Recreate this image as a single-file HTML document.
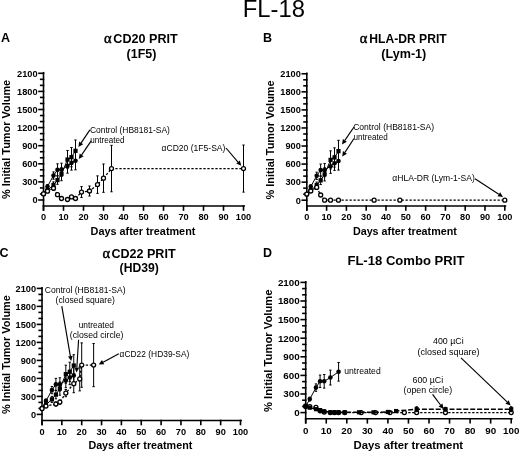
<!DOCTYPE html>
<html><head><meta charset="utf-8"><title>FL-18</title>
<style>
html,body{margin:0;padding:0;background:#fff;}
body{width:520px;height:452px;overflow:hidden;}
svg{display:block;filter:grayscale(1);}
text{font-family:"Liberation Sans", sans-serif;fill:#000;}
.ax{stroke:#000;stroke-width:1.6;stroke-linecap:square;}
.eb{stroke:#000;stroke-width:1.0;}
.tl{font-size:9.2px;font-weight:bold;}
.ti{font-size:12px;font-weight:bold;}
.ti2{font-size:12.5px;font-weight:bold;}
.al{font-size:14.5px;font-family:"Liberation Serif", serif;stroke:#000;stroke-width:0.45px;}
.pl{font-size:12.5px;font-weight:bold;}
.an{font-size:8.2px;}
.xl{font-size:10px;font-weight:bold;}
.yl{font-size:11px;font-weight:bold;}
.mt{font-size:24px;}
</style></head>
<body>
<svg width="520" height="452" viewBox="0 0 520 452">
<rect width="520" height="452" fill="#fff"/>
<line x1="43.5" y1="72.7" x2="43.5" y2="210" class="ax"/>
<line x1="39" y1="200" x2="43.5" y2="200" class="ax"/>
<text x="37.5" y="203.3" class="tl" style="font-size:9.2px" text-anchor="end">0</text>
<line x1="40.7" y1="193.97" x2="43.5" y2="193.97" class="ax"/>
<line x1="40.7" y1="187.93" x2="43.5" y2="187.93" class="ax"/>
<line x1="39" y1="181.9" x2="43.5" y2="181.9" class="ax"/>
<text x="37.5" y="185.2" class="tl" style="font-size:9.2px" text-anchor="end">300</text>
<line x1="40.7" y1="175.87" x2="43.5" y2="175.87" class="ax"/>
<line x1="40.7" y1="169.83" x2="43.5" y2="169.83" class="ax"/>
<line x1="39" y1="163.8" x2="43.5" y2="163.8" class="ax"/>
<text x="37.5" y="167.1" class="tl" style="font-size:9.2px" text-anchor="end">600</text>
<line x1="40.7" y1="157.77" x2="43.5" y2="157.77" class="ax"/>
<line x1="40.7" y1="151.73" x2="43.5" y2="151.73" class="ax"/>
<line x1="39" y1="145.7" x2="43.5" y2="145.7" class="ax"/>
<text x="37.5" y="149" class="tl" style="font-size:9.2px" text-anchor="end">900</text>
<line x1="40.7" y1="139.67" x2="43.5" y2="139.67" class="ax"/>
<line x1="40.7" y1="133.63" x2="43.5" y2="133.63" class="ax"/>
<line x1="39" y1="127.6" x2="43.5" y2="127.6" class="ax"/>
<text x="37.5" y="130.9" class="tl" style="font-size:9.2px" text-anchor="end">1200</text>
<line x1="40.7" y1="121.57" x2="43.5" y2="121.57" class="ax"/>
<line x1="40.7" y1="115.53" x2="43.5" y2="115.53" class="ax"/>
<line x1="39" y1="109.5" x2="43.5" y2="109.5" class="ax"/>
<text x="37.5" y="112.8" class="tl" style="font-size:9.2px" text-anchor="end">1500</text>
<line x1="40.7" y1="103.47" x2="43.5" y2="103.47" class="ax"/>
<line x1="40.7" y1="97.43" x2="43.5" y2="97.43" class="ax"/>
<line x1="39" y1="91.4" x2="43.5" y2="91.4" class="ax"/>
<text x="37.5" y="94.7" class="tl" style="font-size:9.2px" text-anchor="end">1800</text>
<line x1="40.7" y1="85.37" x2="43.5" y2="85.37" class="ax"/>
<line x1="40.7" y1="79.33" x2="43.5" y2="79.33" class="ax"/>
<line x1="39" y1="73.3" x2="43.5" y2="73.3" class="ax"/>
<text x="37.5" y="76.6" class="tl" style="font-size:9.2px" text-anchor="end">2100</text>
<line x1="43.5" y1="206" x2="244.1" y2="206" class="ax"/>
<line x1="43.5" y1="206" x2="43.5" y2="210" class="ax"/>
<text x="43.5" y="220" class="tl" style="font-size:9.2px" text-anchor="middle">0</text>
<line x1="63.5" y1="206" x2="63.5" y2="210" class="ax"/>
<text x="63.5" y="220" class="tl" style="font-size:9.2px" text-anchor="middle">10</text>
<line x1="83.5" y1="206" x2="83.5" y2="210" class="ax"/>
<text x="83.5" y="220" class="tl" style="font-size:9.2px" text-anchor="middle">20</text>
<line x1="103.5" y1="206" x2="103.5" y2="210" class="ax"/>
<text x="103.5" y="220" class="tl" style="font-size:9.2px" text-anchor="middle">30</text>
<line x1="123.5" y1="206" x2="123.5" y2="210" class="ax"/>
<text x="123.5" y="220" class="tl" style="font-size:9.2px" text-anchor="middle">40</text>
<line x1="143.5" y1="206" x2="143.5" y2="210" class="ax"/>
<text x="143.5" y="220" class="tl" style="font-size:9.2px" text-anchor="middle">50</text>
<line x1="163.5" y1="206" x2="163.5" y2="210" class="ax"/>
<text x="163.5" y="220" class="tl" style="font-size:9.2px" text-anchor="middle">60</text>
<line x1="183.5" y1="206" x2="183.5" y2="210" class="ax"/>
<text x="183.5" y="220" class="tl" style="font-size:9.2px" text-anchor="middle">70</text>
<line x1="203.5" y1="206" x2="203.5" y2="210" class="ax"/>
<text x="203.5" y="220" class="tl" style="font-size:9.2px" text-anchor="middle">80</text>
<line x1="223.5" y1="206" x2="223.5" y2="210" class="ax"/>
<text x="223.5" y="220" class="tl" style="font-size:9.2px" text-anchor="middle">90</text>
<line x1="243.5" y1="206" x2="243.5" y2="210" class="ax"/>
<text x="243.5" y="220" class="tl" style="font-size:9.2px" text-anchor="middle">100</text>
<polyline points="43.5,193.97 47.5,190.35 53.5,184.92 57.5,180.09 61.5,174.06 67.5,159.58 71.5,157.16 75.5,150.83" fill="none" stroke="#000" stroke-width="1.0"/>
<line x1="43.5" y1="193.06" x2="43.5" y2="194.87" class="eb"/>
<line x1="42.3" y1="193.06" x2="44.7" y2="193.06" class="eb"/>
<line x1="42.3" y1="194.87" x2="44.7" y2="194.87" class="eb"/>
<line x1="47.5" y1="188.54" x2="47.5" y2="192.16" class="eb"/>
<line x1="46.3" y1="188.54" x2="48.7" y2="188.54" class="eb"/>
<line x1="46.3" y1="192.16" x2="48.7" y2="192.16" class="eb"/>
<line x1="53.5" y1="181.9" x2="53.5" y2="187.93" class="eb"/>
<line x1="52.3" y1="181.9" x2="54.7" y2="181.9" class="eb"/>
<line x1="52.3" y1="187.93" x2="54.7" y2="187.93" class="eb"/>
<line x1="57.5" y1="175.87" x2="57.5" y2="184.31" class="eb"/>
<line x1="56.3" y1="175.87" x2="58.7" y2="175.87" class="eb"/>
<line x1="56.3" y1="184.31" x2="58.7" y2="184.31" class="eb"/>
<line x1="61.5" y1="167.42" x2="61.5" y2="180.69" class="eb"/>
<line x1="60.3" y1="167.42" x2="62.7" y2="167.42" class="eb"/>
<line x1="60.3" y1="180.69" x2="62.7" y2="180.69" class="eb"/>
<line x1="67.5" y1="150.53" x2="67.5" y2="168.63" class="eb"/>
<line x1="66.3" y1="150.53" x2="68.7" y2="150.53" class="eb"/>
<line x1="66.3" y1="168.63" x2="68.7" y2="168.63" class="eb"/>
<line x1="71.5" y1="147.51" x2="71.5" y2="166.82" class="eb"/>
<line x1="70.3" y1="147.51" x2="72.7" y2="147.51" class="eb"/>
<line x1="70.3" y1="166.82" x2="72.7" y2="166.82" class="eb"/>
<line x1="75.5" y1="139.97" x2="75.5" y2="161.69" class="eb"/>
<line x1="74.3" y1="139.97" x2="76.7" y2="139.97" class="eb"/>
<line x1="74.3" y1="161.69" x2="76.7" y2="161.69" class="eb"/>
<rect x="41.4" y="191.87" width="4.2" height="4.2" fill="#000"/>
<rect x="45.4" y="188.25" width="4.2" height="4.2" fill="#000"/>
<rect x="51.4" y="182.82" width="4.2" height="4.2" fill="#000"/>
<rect x="55.4" y="177.99" width="4.2" height="4.2" fill="#000"/>
<rect x="59.4" y="171.96" width="4.2" height="4.2" fill="#000"/>
<rect x="65.4" y="157.48" width="4.2" height="4.2" fill="#000"/>
<rect x="69.4" y="155.06" width="4.2" height="4.2" fill="#000"/>
<rect x="73.4" y="148.73" width="4.2" height="4.2" fill="#000"/>
<polyline points="43.5,193.97 47.5,186.43 53.5,175.56 57.5,169.83 61.5,169.83 67.5,165.91 71.5,162.9 75.5,160.78" fill="none" stroke="#000" stroke-width="1.0"/>
<line x1="43.5" y1="193.06" x2="43.5" y2="194.87" class="eb"/>
<line x1="42.3" y1="193.06" x2="44.7" y2="193.06" class="eb"/>
<line x1="42.3" y1="194.87" x2="44.7" y2="194.87" class="eb"/>
<line x1="47.5" y1="184.62" x2="47.5" y2="188.23" class="eb"/>
<line x1="46.3" y1="184.62" x2="48.7" y2="184.62" class="eb"/>
<line x1="46.3" y1="188.23" x2="48.7" y2="188.23" class="eb"/>
<line x1="53.5" y1="171.94" x2="53.5" y2="179.19" class="eb"/>
<line x1="52.3" y1="171.94" x2="54.7" y2="171.94" class="eb"/>
<line x1="52.3" y1="179.19" x2="54.7" y2="179.19" class="eb"/>
<line x1="57.5" y1="163.8" x2="57.5" y2="175.87" class="eb"/>
<line x1="56.3" y1="163.8" x2="58.7" y2="163.8" class="eb"/>
<line x1="56.3" y1="175.87" x2="58.7" y2="175.87" class="eb"/>
<line x1="61.5" y1="163.2" x2="61.5" y2="176.47" class="eb"/>
<line x1="60.3" y1="163.2" x2="62.7" y2="163.2" class="eb"/>
<line x1="60.3" y1="176.47" x2="62.7" y2="176.47" class="eb"/>
<line x1="67.5" y1="158.67" x2="67.5" y2="173.15" class="eb"/>
<line x1="66.3" y1="158.67" x2="68.7" y2="158.67" class="eb"/>
<line x1="66.3" y1="173.15" x2="68.7" y2="173.15" class="eb"/>
<line x1="71.5" y1="155.66" x2="71.5" y2="170.13" class="eb"/>
<line x1="70.3" y1="155.66" x2="72.7" y2="155.66" class="eb"/>
<line x1="70.3" y1="170.13" x2="72.7" y2="170.13" class="eb"/>
<line x1="75.5" y1="151.73" x2="75.5" y2="169.83" class="eb"/>
<line x1="74.3" y1="151.73" x2="76.7" y2="151.73" class="eb"/>
<line x1="74.3" y1="169.83" x2="76.7" y2="169.83" class="eb"/>
<circle cx="43.5" cy="193.97" r="2.3" fill="#000"/>
<circle cx="47.5" cy="186.43" r="2.3" fill="#000"/>
<circle cx="53.5" cy="175.56" r="2.3" fill="#000"/>
<circle cx="57.5" cy="169.83" r="2.3" fill="#000"/>
<circle cx="61.5" cy="169.83" r="2.3" fill="#000"/>
<circle cx="67.5" cy="165.91" r="2.3" fill="#000"/>
<circle cx="71.5" cy="162.9" r="2.3" fill="#000"/>
<circle cx="75.5" cy="160.78" r="2.3" fill="#000"/>
<polyline points="43.5,193.79 47.5,191.13 53.5,188.23 57.5,194.63 61.5,198.49 67.5,199.52 71.5,196.92 75.5,198.49 81.5,192.04 89.5,191.01 97.5,184.62 103.5,178.16 111.5,168.57 243.5,168.57" fill="none" stroke="#000" stroke-width="1.3" stroke-dasharray="2.3,1.7"/>
<line x1="43.5" y1="192.88" x2="43.5" y2="194.69" class="eb"/>
<line x1="42.3" y1="192.88" x2="44.7" y2="192.88" class="eb"/>
<line x1="42.3" y1="194.69" x2="44.7" y2="194.69" class="eb"/>
<line x1="47.5" y1="189.62" x2="47.5" y2="192.64" class="eb"/>
<line x1="46.3" y1="189.62" x2="48.7" y2="189.62" class="eb"/>
<line x1="46.3" y1="192.64" x2="48.7" y2="192.64" class="eb"/>
<line x1="53.5" y1="186.43" x2="53.5" y2="190.04" class="eb"/>
<line x1="52.3" y1="186.43" x2="54.7" y2="186.43" class="eb"/>
<line x1="52.3" y1="190.04" x2="54.7" y2="190.04" class="eb"/>
<line x1="57.5" y1="193.12" x2="57.5" y2="196.14" class="eb"/>
<line x1="56.3" y1="193.12" x2="58.7" y2="193.12" class="eb"/>
<line x1="56.3" y1="196.14" x2="58.7" y2="196.14" class="eb"/>
<line x1="61.5" y1="197.59" x2="61.5" y2="199.4" class="eb"/>
<line x1="60.3" y1="197.59" x2="62.7" y2="197.59" class="eb"/>
<line x1="60.3" y1="199.4" x2="62.7" y2="199.4" class="eb"/>
<line x1="67.5" y1="198.91" x2="67.5" y2="200.12" class="eb"/>
<line x1="66.3" y1="198.91" x2="68.7" y2="198.91" class="eb"/>
<line x1="66.3" y1="200.12" x2="68.7" y2="200.12" class="eb"/>
<line x1="71.5" y1="195.72" x2="71.5" y2="198.13" class="eb"/>
<line x1="70.3" y1="195.72" x2="72.7" y2="195.72" class="eb"/>
<line x1="70.3" y1="198.13" x2="72.7" y2="198.13" class="eb"/>
<line x1="75.5" y1="197.59" x2="75.5" y2="199.4" class="eb"/>
<line x1="74.3" y1="197.59" x2="76.7" y2="197.59" class="eb"/>
<line x1="74.3" y1="199.4" x2="76.7" y2="199.4" class="eb"/>
<line x1="81.5" y1="186.61" x2="81.5" y2="197.47" class="eb"/>
<line x1="80.3" y1="186.61" x2="82.7" y2="186.61" class="eb"/>
<line x1="80.3" y1="197.47" x2="82.7" y2="197.47" class="eb"/>
<line x1="89.5" y1="186" x2="89.5" y2="196.02" class="eb"/>
<line x1="88.3" y1="186" x2="90.7" y2="186" class="eb"/>
<line x1="88.3" y1="196.02" x2="90.7" y2="196.02" class="eb"/>
<line x1="97.5" y1="175.87" x2="97.5" y2="193.36" class="eb"/>
<line x1="96.3" y1="175.87" x2="98.7" y2="175.87" class="eb"/>
<line x1="96.3" y1="193.36" x2="98.7" y2="193.36" class="eb"/>
<line x1="103.5" y1="163.98" x2="103.5" y2="192.34" class="eb"/>
<line x1="102.3" y1="163.98" x2="104.7" y2="163.98" class="eb"/>
<line x1="102.3" y1="192.34" x2="104.7" y2="192.34" class="eb"/>
<line x1="111.5" y1="145.34" x2="111.5" y2="191.79" class="eb"/>
<line x1="110.3" y1="145.34" x2="112.7" y2="145.34" class="eb"/>
<line x1="110.3" y1="191.79" x2="112.7" y2="191.79" class="eb"/>
<line x1="243.5" y1="145.04" x2="243.5" y2="192.1" class="eb"/>
<line x1="242.3" y1="145.04" x2="244.7" y2="145.04" class="eb"/>
<line x1="242.3" y1="192.1" x2="244.7" y2="192.1" class="eb"/>
<circle cx="43.5" cy="193.79" r="2.0" fill="#fff" stroke="#000" stroke-width="1.3"/>
<circle cx="47.5" cy="191.13" r="2.0" fill="#fff" stroke="#000" stroke-width="1.3"/>
<circle cx="53.5" cy="188.23" r="2.0" fill="#fff" stroke="#000" stroke-width="1.3"/>
<circle cx="57.5" cy="194.63" r="2.0" fill="#fff" stroke="#000" stroke-width="1.3"/>
<circle cx="61.5" cy="198.49" r="2.0" fill="#fff" stroke="#000" stroke-width="1.3"/>
<circle cx="67.5" cy="199.52" r="2.0" fill="#fff" stroke="#000" stroke-width="1.3"/>
<circle cx="71.5" cy="196.92" r="2.0" fill="#fff" stroke="#000" stroke-width="1.3"/>
<circle cx="75.5" cy="198.49" r="2.0" fill="#fff" stroke="#000" stroke-width="1.3"/>
<circle cx="81.5" cy="192.04" r="2.0" fill="#fff" stroke="#000" stroke-width="1.3"/>
<circle cx="89.5" cy="191.01" r="2.0" fill="#fff" stroke="#000" stroke-width="1.3"/>
<circle cx="97.5" cy="184.62" r="2.0" fill="#fff" stroke="#000" stroke-width="1.3"/>
<circle cx="103.5" cy="178.16" r="2.0" fill="#fff" stroke="#000" stroke-width="1.3"/>
<circle cx="111.5" cy="168.57" r="2.0" fill="#fff" stroke="#000" stroke-width="1.3"/>
<circle cx="243.5" cy="168.57" r="2.0" fill="#fff" stroke="#000" stroke-width="1.3"/>
<text x="104" y="42.6" class="al">α</text>
<text x="113.3" y="42.6" class="ti" text-anchor="start" textLength="64.4" lengthAdjust="spacingAndGlyphs" style="font-size:12.2px">CD20 PRIT</text>
<text x="126.6" y="57.5" class="ti" text-anchor="start" textLength="29.8" lengthAdjust="spacingAndGlyphs">(1F5)</text>
<text x="1.1" y="41.5" class="pl" text-anchor="start">A</text>
<text x="89.9" y="132.5" class="an" text-anchor="start" textLength="80" lengthAdjust="spacingAndGlyphs">Control (HB8181-SA)</text>
<text x="90.3" y="142.8" class="an" text-anchor="start" textLength="34.3" lengthAdjust="spacingAndGlyphs">untreated</text>
<text x="161.6" y="150.8" class="an" text-anchor="start" textLength="63.8" lengthAdjust="spacingAndGlyphs">αCD20 (1F5-SA)</text>
<line x1="89.9" y1="129.9" x2="81.18" y2="142.94" stroke="#000" stroke-width="1.15"/>
<polygon points="78.4,147.1 79.18,141.61 83.17,144.28" fill="#000"/>
<line x1="91.2" y1="140.9" x2="81.63" y2="154.88" stroke="#000" stroke-width="1.15"/>
<polygon points="78.8,159 79.65,153.52 83.61,156.23" fill="#000"/>
<line x1="226" y1="148" x2="238.04" y2="162.01" stroke="#000" stroke-width="1.15"/>
<polygon points="241.3,165.8 236.22,163.57 239.86,160.44" fill="#000"/>
<text x="90.6" y="234.5" class="xl" text-anchor="start" textLength="104.8" lengthAdjust="spacingAndGlyphs">Days after treatment</text>
<text x="10.5" y="199.1" class="yl" text-anchor="start" textLength="119.3" lengthAdjust="spacingAndGlyphs" style="font-size:11px" transform="rotate(-90 10.5 199.1)">% Initial Tumor Volume</text>
<line x1="306.8" y1="73.18" x2="306.8" y2="210" class="ax"/>
<line x1="302.3" y1="200.2" x2="306.8" y2="200.2" class="ax"/>
<text x="300.8" y="203.5" class="tl" style="font-size:9.2px" text-anchor="end">0</text>
<line x1="304" y1="194.18" x2="306.8" y2="194.18" class="ax"/>
<line x1="304" y1="188.16" x2="306.8" y2="188.16" class="ax"/>
<line x1="302.3" y1="182.14" x2="306.8" y2="182.14" class="ax"/>
<text x="300.8" y="185.44" class="tl" style="font-size:9.2px" text-anchor="end">300</text>
<line x1="304" y1="176.12" x2="306.8" y2="176.12" class="ax"/>
<line x1="304" y1="170.1" x2="306.8" y2="170.1" class="ax"/>
<line x1="302.3" y1="164.08" x2="306.8" y2="164.08" class="ax"/>
<text x="300.8" y="167.38" class="tl" style="font-size:9.2px" text-anchor="end">600</text>
<line x1="304" y1="158.06" x2="306.8" y2="158.06" class="ax"/>
<line x1="304" y1="152.04" x2="306.8" y2="152.04" class="ax"/>
<line x1="302.3" y1="146.02" x2="306.8" y2="146.02" class="ax"/>
<text x="300.8" y="149.32" class="tl" style="font-size:9.2px" text-anchor="end">900</text>
<line x1="304" y1="140" x2="306.8" y2="140" class="ax"/>
<line x1="304" y1="133.98" x2="306.8" y2="133.98" class="ax"/>
<line x1="302.3" y1="127.96" x2="306.8" y2="127.96" class="ax"/>
<text x="300.8" y="131.26" class="tl" style="font-size:9.2px" text-anchor="end">1200</text>
<line x1="304" y1="121.94" x2="306.8" y2="121.94" class="ax"/>
<line x1="304" y1="115.92" x2="306.8" y2="115.92" class="ax"/>
<line x1="302.3" y1="109.9" x2="306.8" y2="109.9" class="ax"/>
<text x="300.8" y="113.2" class="tl" style="font-size:9.2px" text-anchor="end">1500</text>
<line x1="304" y1="103.88" x2="306.8" y2="103.88" class="ax"/>
<line x1="304" y1="97.86" x2="306.8" y2="97.86" class="ax"/>
<line x1="302.3" y1="91.84" x2="306.8" y2="91.84" class="ax"/>
<text x="300.8" y="95.14" class="tl" style="font-size:9.2px" text-anchor="end">1800</text>
<line x1="304" y1="85.82" x2="306.8" y2="85.82" class="ax"/>
<line x1="304" y1="79.8" x2="306.8" y2="79.8" class="ax"/>
<line x1="302.3" y1="73.78" x2="306.8" y2="73.78" class="ax"/>
<text x="300.8" y="77.08" class="tl" style="font-size:9.2px" text-anchor="end">2100</text>
<line x1="306.8" y1="206" x2="505.4" y2="206" class="ax"/>
<line x1="306.8" y1="206" x2="306.8" y2="210" class="ax"/>
<text x="306.8" y="220" class="tl" style="font-size:9.2px" text-anchor="middle">0</text>
<line x1="326.6" y1="206" x2="326.6" y2="210" class="ax"/>
<text x="326.6" y="220" class="tl" style="font-size:9.2px" text-anchor="middle">10</text>
<line x1="346.4" y1="206" x2="346.4" y2="210" class="ax"/>
<text x="346.4" y="220" class="tl" style="font-size:9.2px" text-anchor="middle">20</text>
<line x1="366.2" y1="206" x2="366.2" y2="210" class="ax"/>
<text x="366.2" y="220" class="tl" style="font-size:9.2px" text-anchor="middle">30</text>
<line x1="386" y1="206" x2="386" y2="210" class="ax"/>
<text x="386" y="220" class="tl" style="font-size:9.2px" text-anchor="middle">40</text>
<line x1="405.8" y1="206" x2="405.8" y2="210" class="ax"/>
<text x="405.8" y="220" class="tl" style="font-size:9.2px" text-anchor="middle">50</text>
<line x1="425.6" y1="206" x2="425.6" y2="210" class="ax"/>
<text x="425.6" y="220" class="tl" style="font-size:9.2px" text-anchor="middle">60</text>
<line x1="445.4" y1="206" x2="445.4" y2="210" class="ax"/>
<text x="445.4" y="220" class="tl" style="font-size:9.2px" text-anchor="middle">70</text>
<line x1="465.2" y1="206" x2="465.2" y2="210" class="ax"/>
<text x="465.2" y="220" class="tl" style="font-size:9.2px" text-anchor="middle">80</text>
<line x1="485" y1="206" x2="485" y2="210" class="ax"/>
<text x="485" y="220" class="tl" style="font-size:9.2px" text-anchor="middle">90</text>
<line x1="504.8" y1="206" x2="504.8" y2="210" class="ax"/>
<text x="504.8" y="220" class="tl" style="font-size:9.2px" text-anchor="middle">100</text>
<polyline points="306.8,194.18 310.76,190.57 316.7,185.15 320.66,180.33 324.62,174.31 330.56,159.87 334.52,157.46 338.48,151.14" fill="none" stroke="#000" stroke-width="1.0"/>
<line x1="306.8" y1="193.28" x2="306.8" y2="195.08" class="eb"/>
<line x1="305.6" y1="193.28" x2="308" y2="193.28" class="eb"/>
<line x1="305.6" y1="195.08" x2="308" y2="195.08" class="eb"/>
<line x1="310.76" y1="188.76" x2="310.76" y2="192.37" class="eb"/>
<line x1="309.56" y1="188.76" x2="311.96" y2="188.76" class="eb"/>
<line x1="309.56" y1="192.37" x2="311.96" y2="192.37" class="eb"/>
<line x1="316.7" y1="182.14" x2="316.7" y2="188.16" class="eb"/>
<line x1="315.5" y1="182.14" x2="317.9" y2="182.14" class="eb"/>
<line x1="315.5" y1="188.16" x2="317.9" y2="188.16" class="eb"/>
<line x1="320.66" y1="176.12" x2="320.66" y2="184.55" class="eb"/>
<line x1="319.46" y1="176.12" x2="321.86" y2="176.12" class="eb"/>
<line x1="319.46" y1="184.55" x2="321.86" y2="184.55" class="eb"/>
<line x1="324.62" y1="167.69" x2="324.62" y2="180.94" class="eb"/>
<line x1="323.42" y1="167.69" x2="325.82" y2="167.69" class="eb"/>
<line x1="323.42" y1="180.94" x2="325.82" y2="180.94" class="eb"/>
<line x1="330.56" y1="150.84" x2="330.56" y2="168.9" class="eb"/>
<line x1="329.36" y1="150.84" x2="331.76" y2="150.84" class="eb"/>
<line x1="329.36" y1="168.9" x2="331.76" y2="168.9" class="eb"/>
<line x1="334.52" y1="147.83" x2="334.52" y2="167.09" class="eb"/>
<line x1="333.32" y1="147.83" x2="335.72" y2="147.83" class="eb"/>
<line x1="333.32" y1="167.09" x2="335.72" y2="167.09" class="eb"/>
<line x1="338.48" y1="140.3" x2="338.48" y2="161.97" class="eb"/>
<line x1="337.28" y1="140.3" x2="339.68" y2="140.3" class="eb"/>
<line x1="337.28" y1="161.97" x2="339.68" y2="161.97" class="eb"/>
<rect x="304.7" y="192.08" width="4.2" height="4.2" fill="#000"/>
<rect x="308.66" y="188.47" width="4.2" height="4.2" fill="#000"/>
<rect x="314.6" y="183.05" width="4.2" height="4.2" fill="#000"/>
<rect x="318.56" y="178.23" width="4.2" height="4.2" fill="#000"/>
<rect x="322.52" y="172.21" width="4.2" height="4.2" fill="#000"/>
<rect x="328.46" y="157.77" width="4.2" height="4.2" fill="#000"/>
<rect x="332.42" y="155.36" width="4.2" height="4.2" fill="#000"/>
<rect x="336.38" y="149.04" width="4.2" height="4.2" fill="#000"/>
<polyline points="306.8,194.18 310.76,186.66 316.7,175.82 320.66,170.1 324.62,170.1 330.56,166.19 334.52,163.18 338.48,161.07" fill="none" stroke="#000" stroke-width="1.0"/>
<line x1="306.8" y1="193.28" x2="306.8" y2="195.08" class="eb"/>
<line x1="305.6" y1="193.28" x2="308" y2="193.28" class="eb"/>
<line x1="305.6" y1="195.08" x2="308" y2="195.08" class="eb"/>
<line x1="310.76" y1="184.85" x2="310.76" y2="188.46" class="eb"/>
<line x1="309.56" y1="184.85" x2="311.96" y2="184.85" class="eb"/>
<line x1="309.56" y1="188.46" x2="311.96" y2="188.46" class="eb"/>
<line x1="316.7" y1="172.21" x2="316.7" y2="179.43" class="eb"/>
<line x1="315.5" y1="172.21" x2="317.9" y2="172.21" class="eb"/>
<line x1="315.5" y1="179.43" x2="317.9" y2="179.43" class="eb"/>
<line x1="320.66" y1="164.08" x2="320.66" y2="176.12" class="eb"/>
<line x1="319.46" y1="164.08" x2="321.86" y2="164.08" class="eb"/>
<line x1="319.46" y1="176.12" x2="321.86" y2="176.12" class="eb"/>
<line x1="324.62" y1="163.48" x2="324.62" y2="176.72" class="eb"/>
<line x1="323.42" y1="163.48" x2="325.82" y2="163.48" class="eb"/>
<line x1="323.42" y1="176.72" x2="325.82" y2="176.72" class="eb"/>
<line x1="330.56" y1="158.96" x2="330.56" y2="173.41" class="eb"/>
<line x1="329.36" y1="158.96" x2="331.76" y2="158.96" class="eb"/>
<line x1="329.36" y1="173.41" x2="331.76" y2="173.41" class="eb"/>
<line x1="334.52" y1="155.95" x2="334.52" y2="170.4" class="eb"/>
<line x1="333.32" y1="155.95" x2="335.72" y2="155.95" class="eb"/>
<line x1="333.32" y1="170.4" x2="335.72" y2="170.4" class="eb"/>
<line x1="338.48" y1="152.04" x2="338.48" y2="170.1" class="eb"/>
<line x1="337.28" y1="152.04" x2="339.68" y2="152.04" class="eb"/>
<line x1="337.28" y1="170.1" x2="339.68" y2="170.1" class="eb"/>
<circle cx="306.8" cy="194.18" r="2.3" fill="#000"/>
<circle cx="310.76" cy="186.66" r="2.3" fill="#000"/>
<circle cx="316.7" cy="175.82" r="2.3" fill="#000"/>
<circle cx="320.66" cy="170.1" r="2.3" fill="#000"/>
<circle cx="324.62" cy="170.1" r="2.3" fill="#000"/>
<circle cx="330.56" cy="166.19" r="2.3" fill="#000"/>
<circle cx="334.52" cy="163.18" r="2.3" fill="#000"/>
<circle cx="338.48" cy="161.07" r="2.3" fill="#000"/>
<polyline points="306.8,194.12 310.76,190.99 316.7,187.38 320.66,195.02 324.62,200.2 330.56,200.2 338.48,200.2 374.12,200.2 399.86,200.2 504.8,200.2" fill="none" stroke="#000" stroke-width="1.3" stroke-dasharray="2.3,1.7"/>
<line x1="306.8" y1="193.22" x2="306.8" y2="195.02" class="eb"/>
<line x1="305.6" y1="193.22" x2="308" y2="193.22" class="eb"/>
<line x1="305.6" y1="195.02" x2="308" y2="195.02" class="eb"/>
<line x1="310.76" y1="189.48" x2="310.76" y2="192.49" class="eb"/>
<line x1="309.56" y1="189.48" x2="311.96" y2="189.48" class="eb"/>
<line x1="309.56" y1="192.49" x2="311.96" y2="192.49" class="eb"/>
<line x1="316.7" y1="185.57" x2="316.7" y2="189.18" class="eb"/>
<line x1="315.5" y1="185.57" x2="317.9" y2="185.57" class="eb"/>
<line x1="315.5" y1="189.18" x2="317.9" y2="189.18" class="eb"/>
<line x1="320.66" y1="193.52" x2="320.66" y2="196.53" class="eb"/>
<line x1="319.46" y1="193.52" x2="321.86" y2="193.52" class="eb"/>
<line x1="319.46" y1="196.53" x2="321.86" y2="196.53" class="eb"/>
<circle cx="306.8" cy="194.12" r="2.0" fill="#fff" stroke="#000" stroke-width="1.3"/>
<circle cx="310.76" cy="190.99" r="2.0" fill="#fff" stroke="#000" stroke-width="1.3"/>
<circle cx="316.7" cy="187.38" r="2.0" fill="#fff" stroke="#000" stroke-width="1.3"/>
<circle cx="320.66" cy="195.02" r="2.0" fill="#fff" stroke="#000" stroke-width="1.3"/>
<circle cx="324.62" cy="200.2" r="2.0" fill="#fff" stroke="#000" stroke-width="1.3"/>
<circle cx="330.56" cy="200.2" r="2.0" fill="#fff" stroke="#000" stroke-width="1.3"/>
<circle cx="338.48" cy="200.2" r="2.0" fill="#fff" stroke="#000" stroke-width="1.3"/>
<circle cx="374.12" cy="200.2" r="2.0" fill="#fff" stroke="#000" stroke-width="1.3"/>
<circle cx="399.86" cy="200.2" r="2.0" fill="#fff" stroke="#000" stroke-width="1.3"/>
<circle cx="504.8" cy="200.2" r="2.0" fill="#fff" stroke="#000" stroke-width="1.3"/>
<text x="359.8" y="42.6" class="al">α</text>
<text x="369.3" y="42.6" class="ti" text-anchor="start" textLength="77.4" lengthAdjust="spacingAndGlyphs" style="font-size:12.2px">HLA-DR PRIT</text>
<text x="381.3" y="57.5" class="ti" text-anchor="start" textLength="45" lengthAdjust="spacingAndGlyphs">(Lym-1)</text>
<text x="263.1" y="41.5" class="pl" text-anchor="start">B</text>
<text x="353.2" y="129.8" class="an" text-anchor="start" textLength="80.8" lengthAdjust="spacingAndGlyphs">Control (HB8181-SA)</text>
<text x="353.5" y="140" class="an" text-anchor="start" textLength="34.3" lengthAdjust="spacingAndGlyphs">untreated</text>
<text x="392.3" y="180.5" class="an" text-anchor="start" textLength="82.6" lengthAdjust="spacingAndGlyphs">αHLA-DR (Lym-1-SA)</text>
<line x1="354" y1="127" x2="344.83" y2="140.38" stroke="#000" stroke-width="1.15"/>
<polygon points="342,144.5 342.85,139.02 346.81,141.73" fill="#000"/>
<line x1="354" y1="138.5" x2="344.94" y2="152.32" stroke="#000" stroke-width="1.15"/>
<polygon points="342.2,156.5 342.93,151 346.95,153.63" fill="#000"/>
<line x1="475" y1="178.8" x2="498.81" y2="194.28" stroke="#000" stroke-width="1.15"/>
<polygon points="503,197 497.5,196.29 500.12,192.26" fill="#000"/>
<text x="352.9" y="234.7" class="xl" text-anchor="start" textLength="104" lengthAdjust="spacingAndGlyphs">Days after treatment</text>
<text x="274.1" y="199.4" class="yl" text-anchor="start" textLength="119" lengthAdjust="spacingAndGlyphs" style="font-size:11px" transform="rotate(-90 274.1 199.4)">% Initial Tumor Volume</text>
<line x1="42" y1="287.8" x2="42" y2="424.5" class="ax"/>
<line x1="37.5" y1="414.4" x2="42" y2="414.4" class="ax"/>
<text x="36" y="417.7" class="tl" style="font-size:9.2px" text-anchor="end">0</text>
<line x1="39.2" y1="408.4" x2="42" y2="408.4" class="ax"/>
<line x1="39.2" y1="402.4" x2="42" y2="402.4" class="ax"/>
<line x1="37.5" y1="396.4" x2="42" y2="396.4" class="ax"/>
<text x="36" y="399.7" class="tl" style="font-size:9.2px" text-anchor="end">300</text>
<line x1="39.2" y1="390.4" x2="42" y2="390.4" class="ax"/>
<line x1="39.2" y1="384.4" x2="42" y2="384.4" class="ax"/>
<line x1="37.5" y1="378.4" x2="42" y2="378.4" class="ax"/>
<text x="36" y="381.7" class="tl" style="font-size:9.2px" text-anchor="end">600</text>
<line x1="39.2" y1="372.4" x2="42" y2="372.4" class="ax"/>
<line x1="39.2" y1="366.4" x2="42" y2="366.4" class="ax"/>
<line x1="37.5" y1="360.4" x2="42" y2="360.4" class="ax"/>
<text x="36" y="363.7" class="tl" style="font-size:9.2px" text-anchor="end">900</text>
<line x1="39.2" y1="354.4" x2="42" y2="354.4" class="ax"/>
<line x1="39.2" y1="348.4" x2="42" y2="348.4" class="ax"/>
<line x1="37.5" y1="342.4" x2="42" y2="342.4" class="ax"/>
<text x="36" y="345.7" class="tl" style="font-size:9.2px" text-anchor="end">1200</text>
<line x1="39.2" y1="336.4" x2="42" y2="336.4" class="ax"/>
<line x1="39.2" y1="330.4" x2="42" y2="330.4" class="ax"/>
<line x1="37.5" y1="324.4" x2="42" y2="324.4" class="ax"/>
<text x="36" y="327.7" class="tl" style="font-size:9.2px" text-anchor="end">1500</text>
<line x1="39.2" y1="318.4" x2="42" y2="318.4" class="ax"/>
<line x1="39.2" y1="312.4" x2="42" y2="312.4" class="ax"/>
<line x1="37.5" y1="306.4" x2="42" y2="306.4" class="ax"/>
<text x="36" y="309.7" class="tl" style="font-size:9.2px" text-anchor="end">1800</text>
<line x1="39.2" y1="300.4" x2="42" y2="300.4" class="ax"/>
<line x1="39.2" y1="294.4" x2="42" y2="294.4" class="ax"/>
<line x1="37.5" y1="288.4" x2="42" y2="288.4" class="ax"/>
<text x="36" y="291.7" class="tl" style="font-size:9.2px" text-anchor="end">2100</text>
<line x1="42" y1="420.5" x2="241.1" y2="420.5" class="ax"/>
<line x1="42" y1="420.5" x2="42" y2="424.5" class="ax"/>
<text x="42" y="434.5" class="tl" style="font-size:9.2px" text-anchor="middle">0</text>
<line x1="61.85" y1="420.5" x2="61.85" y2="424.5" class="ax"/>
<text x="61.85" y="434.5" class="tl" style="font-size:9.2px" text-anchor="middle">10</text>
<line x1="81.7" y1="420.5" x2="81.7" y2="424.5" class="ax"/>
<text x="81.7" y="434.5" class="tl" style="font-size:9.2px" text-anchor="middle">20</text>
<line x1="101.55" y1="420.5" x2="101.55" y2="424.5" class="ax"/>
<text x="101.55" y="434.5" class="tl" style="font-size:9.2px" text-anchor="middle">30</text>
<line x1="121.4" y1="420.5" x2="121.4" y2="424.5" class="ax"/>
<text x="121.4" y="434.5" class="tl" style="font-size:9.2px" text-anchor="middle">40</text>
<line x1="141.25" y1="420.5" x2="141.25" y2="424.5" class="ax"/>
<text x="141.25" y="434.5" class="tl" style="font-size:9.2px" text-anchor="middle">50</text>
<line x1="161.1" y1="420.5" x2="161.1" y2="424.5" class="ax"/>
<text x="161.1" y="434.5" class="tl" style="font-size:9.2px" text-anchor="middle">60</text>
<line x1="180.95" y1="420.5" x2="180.95" y2="424.5" class="ax"/>
<text x="180.95" y="434.5" class="tl" style="font-size:9.2px" text-anchor="middle">70</text>
<line x1="200.8" y1="420.5" x2="200.8" y2="424.5" class="ax"/>
<text x="200.8" y="434.5" class="tl" style="font-size:9.2px" text-anchor="middle">80</text>
<line x1="220.65" y1="420.5" x2="220.65" y2="424.5" class="ax"/>
<text x="220.65" y="434.5" class="tl" style="font-size:9.2px" text-anchor="middle">90</text>
<line x1="240.5" y1="420.5" x2="240.5" y2="424.5" class="ax"/>
<text x="240.5" y="434.5" class="tl" style="font-size:9.2px" text-anchor="middle">100</text>
<polyline points="42,408.4 45.97,404.8 51.92,399.4 55.9,394.6 59.87,388.6 65.82,374.2 69.79,371.8 73.76,365.5" fill="none" stroke="#000" stroke-width="1.0"/>
<line x1="42" y1="407.5" x2="42" y2="409.3" class="eb"/>
<line x1="40.8" y1="407.5" x2="43.2" y2="407.5" class="eb"/>
<line x1="40.8" y1="409.3" x2="43.2" y2="409.3" class="eb"/>
<line x1="45.97" y1="403" x2="45.97" y2="406.6" class="eb"/>
<line x1="44.77" y1="403" x2="47.17" y2="403" class="eb"/>
<line x1="44.77" y1="406.6" x2="47.17" y2="406.6" class="eb"/>
<line x1="51.92" y1="396.4" x2="51.92" y2="402.4" class="eb"/>
<line x1="50.72" y1="396.4" x2="53.12" y2="396.4" class="eb"/>
<line x1="50.72" y1="402.4" x2="53.12" y2="402.4" class="eb"/>
<line x1="55.9" y1="390.4" x2="55.9" y2="398.8" class="eb"/>
<line x1="54.7" y1="390.4" x2="57.1" y2="390.4" class="eb"/>
<line x1="54.7" y1="398.8" x2="57.1" y2="398.8" class="eb"/>
<line x1="59.87" y1="382" x2="59.87" y2="395.2" class="eb"/>
<line x1="58.66" y1="382" x2="61.07" y2="382" class="eb"/>
<line x1="58.66" y1="395.2" x2="61.07" y2="395.2" class="eb"/>
<line x1="65.82" y1="365.2" x2="65.82" y2="383.2" class="eb"/>
<line x1="64.62" y1="365.2" x2="67.02" y2="365.2" class="eb"/>
<line x1="64.62" y1="383.2" x2="67.02" y2="383.2" class="eb"/>
<line x1="69.79" y1="362.2" x2="69.79" y2="381.4" class="eb"/>
<line x1="68.59" y1="362.2" x2="70.99" y2="362.2" class="eb"/>
<line x1="68.59" y1="381.4" x2="70.99" y2="381.4" class="eb"/>
<line x1="73.76" y1="354.7" x2="73.76" y2="376.3" class="eb"/>
<line x1="72.56" y1="354.7" x2="74.96" y2="354.7" class="eb"/>
<line x1="72.56" y1="376.3" x2="74.96" y2="376.3" class="eb"/>
<rect x="39.9" y="406.3" width="4.2" height="4.2" fill="#000"/>
<rect x="43.87" y="402.7" width="4.2" height="4.2" fill="#000"/>
<rect x="49.82" y="397.3" width="4.2" height="4.2" fill="#000"/>
<rect x="53.8" y="392.5" width="4.2" height="4.2" fill="#000"/>
<rect x="57.77" y="386.5" width="4.2" height="4.2" fill="#000"/>
<rect x="63.72" y="372.1" width="4.2" height="4.2" fill="#000"/>
<rect x="67.69" y="369.7" width="4.2" height="4.2" fill="#000"/>
<rect x="71.66" y="363.4" width="4.2" height="4.2" fill="#000"/>
<polyline points="42,408.4 45.97,400.9 51.92,390.1 55.9,384.4 59.87,384.4 65.82,380.5 69.79,377.5 73.76,375.4" fill="none" stroke="#000" stroke-width="1.0"/>
<line x1="42" y1="407.5" x2="42" y2="409.3" class="eb"/>
<line x1="40.8" y1="407.5" x2="43.2" y2="407.5" class="eb"/>
<line x1="40.8" y1="409.3" x2="43.2" y2="409.3" class="eb"/>
<line x1="45.97" y1="399.1" x2="45.97" y2="402.7" class="eb"/>
<line x1="44.77" y1="399.1" x2="47.17" y2="399.1" class="eb"/>
<line x1="44.77" y1="402.7" x2="47.17" y2="402.7" class="eb"/>
<line x1="51.92" y1="386.5" x2="51.92" y2="393.7" class="eb"/>
<line x1="50.72" y1="386.5" x2="53.12" y2="386.5" class="eb"/>
<line x1="50.72" y1="393.7" x2="53.12" y2="393.7" class="eb"/>
<line x1="55.9" y1="378.4" x2="55.9" y2="390.4" class="eb"/>
<line x1="54.7" y1="378.4" x2="57.1" y2="378.4" class="eb"/>
<line x1="54.7" y1="390.4" x2="57.1" y2="390.4" class="eb"/>
<line x1="59.87" y1="377.8" x2="59.87" y2="391" class="eb"/>
<line x1="58.66" y1="377.8" x2="61.07" y2="377.8" class="eb"/>
<line x1="58.66" y1="391" x2="61.07" y2="391" class="eb"/>
<line x1="65.82" y1="373.3" x2="65.82" y2="387.7" class="eb"/>
<line x1="64.62" y1="373.3" x2="67.02" y2="373.3" class="eb"/>
<line x1="64.62" y1="387.7" x2="67.02" y2="387.7" class="eb"/>
<line x1="69.79" y1="370.3" x2="69.79" y2="384.7" class="eb"/>
<line x1="68.59" y1="370.3" x2="70.99" y2="370.3" class="eb"/>
<line x1="68.59" y1="384.7" x2="70.99" y2="384.7" class="eb"/>
<line x1="73.76" y1="366.4" x2="73.76" y2="384.4" class="eb"/>
<line x1="72.56" y1="366.4" x2="74.96" y2="366.4" class="eb"/>
<line x1="72.56" y1="384.4" x2="74.96" y2="384.4" class="eb"/>
<circle cx="42" cy="408.4" r="2.3" fill="#000"/>
<circle cx="45.97" cy="400.9" r="2.3" fill="#000"/>
<circle cx="51.92" cy="390.1" r="2.3" fill="#000"/>
<circle cx="55.9" cy="384.4" r="2.3" fill="#000"/>
<circle cx="59.87" cy="384.4" r="2.3" fill="#000"/>
<circle cx="65.82" cy="380.5" r="2.3" fill="#000"/>
<circle cx="69.79" cy="377.5" r="2.3" fill="#000"/>
<circle cx="73.76" cy="375.4" r="2.3" fill="#000"/>
<polyline points="42,408.58 45.97,406.12 55.9,404.02 59.87,402.1 65.82,393.1 73.76,383.68 79.72,378.88 81.7,365.08 93.61,365.08" fill="none" stroke="#000" stroke-width="1.3" stroke-dasharray="2.3,1.7"/>
<line x1="42" y1="407.68" x2="42" y2="409.48" class="eb"/>
<line x1="40.8" y1="407.68" x2="43.2" y2="407.68" class="eb"/>
<line x1="40.8" y1="409.48" x2="43.2" y2="409.48" class="eb"/>
<line x1="45.97" y1="404.92" x2="45.97" y2="407.32" class="eb"/>
<line x1="44.77" y1="404.92" x2="47.17" y2="404.92" class="eb"/>
<line x1="44.77" y1="407.32" x2="47.17" y2="407.32" class="eb"/>
<line x1="55.9" y1="402.22" x2="55.9" y2="405.82" class="eb"/>
<line x1="54.7" y1="402.22" x2="57.1" y2="402.22" class="eb"/>
<line x1="54.7" y1="405.82" x2="57.1" y2="405.82" class="eb"/>
<line x1="59.87" y1="400" x2="59.87" y2="404.2" class="eb"/>
<line x1="58.66" y1="400" x2="61.07" y2="400" class="eb"/>
<line x1="58.66" y1="404.2" x2="61.07" y2="404.2" class="eb"/>
<line x1="65.82" y1="389.5" x2="65.82" y2="396.7" class="eb"/>
<line x1="64.62" y1="389.5" x2="67.02" y2="389.5" class="eb"/>
<line x1="64.62" y1="396.7" x2="67.02" y2="396.7" class="eb"/>
<line x1="73.76" y1="374.68" x2="73.76" y2="392.68" class="eb"/>
<line x1="72.56" y1="374.68" x2="74.96" y2="374.68" class="eb"/>
<line x1="72.56" y1="392.68" x2="74.96" y2="392.68" class="eb"/>
<line x1="79.72" y1="366.88" x2="79.72" y2="390.88" class="eb"/>
<line x1="78.52" y1="366.88" x2="80.92" y2="366.88" class="eb"/>
<line x1="78.52" y1="390.88" x2="80.92" y2="390.88" class="eb"/>
<line x1="81.7" y1="342.88" x2="81.7" y2="387.28" class="eb"/>
<line x1="80.5" y1="342.88" x2="82.9" y2="342.88" class="eb"/>
<line x1="80.5" y1="387.28" x2="82.9" y2="387.28" class="eb"/>
<line x1="93.61" y1="343.48" x2="93.61" y2="386.68" class="eb"/>
<line x1="92.41" y1="343.48" x2="94.81" y2="343.48" class="eb"/>
<line x1="92.41" y1="386.68" x2="94.81" y2="386.68" class="eb"/>
<circle cx="42" cy="408.58" r="2.0" fill="#fff" stroke="#000" stroke-width="1.3"/>
<circle cx="45.97" cy="406.12" r="2.0" fill="#fff" stroke="#000" stroke-width="1.3"/>
<circle cx="55.9" cy="404.02" r="2.0" fill="#fff" stroke="#000" stroke-width="1.3"/>
<circle cx="59.87" cy="402.1" r="2.0" fill="#fff" stroke="#000" stroke-width="1.3"/>
<circle cx="65.82" cy="393.1" r="2.0" fill="#fff" stroke="#000" stroke-width="1.3"/>
<circle cx="73.76" cy="383.68" r="2.0" fill="#fff" stroke="#000" stroke-width="1.3"/>
<circle cx="79.72" cy="378.88" r="2.0" fill="#fff" stroke="#000" stroke-width="1.3"/>
<circle cx="81.7" cy="365.08" r="2.0" fill="#fff" stroke="#000" stroke-width="1.3"/>
<circle cx="93.61" cy="365.08" r="2.0" fill="#fff" stroke="#000" stroke-width="1.3"/>
<text x="102.6" y="257.7" class="al">α</text>
<text x="111.4" y="257.7" class="ti" text-anchor="start" textLength="64.2" lengthAdjust="spacingAndGlyphs" style="font-size:12.2px">CD22 PRIT</text>
<text x="119.6" y="271.7" class="ti" text-anchor="start" textLength="39.2" lengthAdjust="spacingAndGlyphs">(HD39)</text>
<text x="-0.4" y="257.4" class="pl" text-anchor="start">C</text>
<text x="44.8" y="293.3" class="an" text-anchor="start" textLength="80.8" lengthAdjust="spacingAndGlyphs">Control (HB8181-SA)</text>
<text x="55.6" y="303.1" class="an" text-anchor="start" textLength="59.2" lengthAdjust="spacingAndGlyphs">(closed square)</text>
<text x="78.7" y="327.8" class="an" text-anchor="start" textLength="35.3" lengthAdjust="spacingAndGlyphs">untreated</text>
<text x="69.8" y="338" class="an" text-anchor="start" textLength="53.6" lengthAdjust="spacingAndGlyphs">(closed circle)</text>
<text x="119.6" y="356.7" class="an" text-anchor="start" textLength="69.8" lengthAdjust="spacingAndGlyphs">αCD22 (HD39-SA)</text>
<line x1="61.8" y1="306.2" x2="70.35" y2="356.07" stroke="#000" stroke-width="1.15"/>
<polygon points="71.2,361 67.99,356.48 72.72,355.67" fill="#000"/>
<line x1="78.6" y1="339.8" x2="76.82" y2="367.61" stroke="#000" stroke-width="1.15"/>
<polygon points="76.5,372.6 74.42,367.46 79.21,367.76" fill="#000"/>
<line x1="118.8" y1="353.8" x2="103.1" y2="362.23" stroke="#000" stroke-width="1.15"/>
<polygon points="98.7,364.6 101.97,360.12 104.24,364.35" fill="#000"/>
<text x="88.4" y="448.7" class="xl" text-anchor="start" textLength="103.9" lengthAdjust="spacingAndGlyphs">Days after treatment</text>
<text x="9.9" y="414.1" class="yl" text-anchor="start" textLength="119" lengthAdjust="spacingAndGlyphs" style="font-size:11px" transform="rotate(-90 9.9 414.1)">% Initial Tumor Volume</text>
<line x1="305.7" y1="281.8" x2="305.7" y2="422.8" class="ax"/>
<line x1="301.2" y1="412.6" x2="305.7" y2="412.6" class="ax"/>
<text x="299.7" y="415.9" class="tl" style="font-size:9.8px" text-anchor="end">0</text>
<line x1="302.9" y1="406.4" x2="305.7" y2="406.4" class="ax"/>
<line x1="302.9" y1="400.2" x2="305.7" y2="400.2" class="ax"/>
<line x1="301.2" y1="394" x2="305.7" y2="394" class="ax"/>
<text x="299.7" y="397.3" class="tl" style="font-size:9.8px" text-anchor="end">300</text>
<line x1="302.9" y1="387.8" x2="305.7" y2="387.8" class="ax"/>
<line x1="302.9" y1="381.6" x2="305.7" y2="381.6" class="ax"/>
<line x1="301.2" y1="375.4" x2="305.7" y2="375.4" class="ax"/>
<text x="299.7" y="378.7" class="tl" style="font-size:9.8px" text-anchor="end">600</text>
<line x1="302.9" y1="369.2" x2="305.7" y2="369.2" class="ax"/>
<line x1="302.9" y1="363" x2="305.7" y2="363" class="ax"/>
<line x1="301.2" y1="356.8" x2="305.7" y2="356.8" class="ax"/>
<text x="299.7" y="360.1" class="tl" style="font-size:9.8px" text-anchor="end">900</text>
<line x1="302.9" y1="350.6" x2="305.7" y2="350.6" class="ax"/>
<line x1="302.9" y1="344.4" x2="305.7" y2="344.4" class="ax"/>
<line x1="301.2" y1="338.2" x2="305.7" y2="338.2" class="ax"/>
<text x="299.7" y="341.5" class="tl" style="font-size:9.8px" text-anchor="end">1200</text>
<line x1="302.9" y1="332" x2="305.7" y2="332" class="ax"/>
<line x1="302.9" y1="325.8" x2="305.7" y2="325.8" class="ax"/>
<line x1="301.2" y1="319.6" x2="305.7" y2="319.6" class="ax"/>
<text x="299.7" y="322.9" class="tl" style="font-size:9.8px" text-anchor="end">1500</text>
<line x1="302.9" y1="313.4" x2="305.7" y2="313.4" class="ax"/>
<line x1="302.9" y1="307.2" x2="305.7" y2="307.2" class="ax"/>
<line x1="301.2" y1="301" x2="305.7" y2="301" class="ax"/>
<text x="299.7" y="304.3" class="tl" style="font-size:9.8px" text-anchor="end">1800</text>
<line x1="302.9" y1="294.8" x2="305.7" y2="294.8" class="ax"/>
<line x1="302.9" y1="288.6" x2="305.7" y2="288.6" class="ax"/>
<line x1="301.2" y1="282.4" x2="305.7" y2="282.4" class="ax"/>
<text x="299.7" y="285.7" class="tl" style="font-size:9.8px" text-anchor="end">2100</text>
<line x1="305.7" y1="418.8" x2="511.8" y2="418.8" class="ax"/>
<line x1="305.7" y1="418.8" x2="305.7" y2="422.8" class="ax"/>
<text x="305.7" y="433.7" class="tl" style="font-size:9.8px" text-anchor="middle">0</text>
<line x1="326.25" y1="418.8" x2="326.25" y2="422.8" class="ax"/>
<text x="326.25" y="433.7" class="tl" style="font-size:9.8px" text-anchor="middle">10</text>
<line x1="346.8" y1="418.8" x2="346.8" y2="422.8" class="ax"/>
<text x="346.8" y="433.7" class="tl" style="font-size:9.8px" text-anchor="middle">20</text>
<line x1="367.35" y1="418.8" x2="367.35" y2="422.8" class="ax"/>
<text x="367.35" y="433.7" class="tl" style="font-size:9.8px" text-anchor="middle">30</text>
<line x1="387.9" y1="418.8" x2="387.9" y2="422.8" class="ax"/>
<text x="387.9" y="433.7" class="tl" style="font-size:9.8px" text-anchor="middle">40</text>
<line x1="408.45" y1="418.8" x2="408.45" y2="422.8" class="ax"/>
<text x="408.45" y="433.7" class="tl" style="font-size:9.8px" text-anchor="middle">50</text>
<line x1="429" y1="418.8" x2="429" y2="422.8" class="ax"/>
<text x="429" y="433.7" class="tl" style="font-size:9.8px" text-anchor="middle">60</text>
<line x1="449.55" y1="418.8" x2="449.55" y2="422.8" class="ax"/>
<text x="449.55" y="433.7" class="tl" style="font-size:9.8px" text-anchor="middle">70</text>
<line x1="470.1" y1="418.8" x2="470.1" y2="422.8" class="ax"/>
<text x="470.1" y="433.7" class="tl" style="font-size:9.8px" text-anchor="middle">80</text>
<line x1="490.65" y1="418.8" x2="490.65" y2="422.8" class="ax"/>
<text x="490.65" y="433.7" class="tl" style="font-size:9.8px" text-anchor="middle">90</text>
<line x1="511.2" y1="418.8" x2="511.2" y2="422.8" class="ax"/>
<text x="511.2" y="433.7" class="tl" style="font-size:9.8px" text-anchor="middle">100</text>
<polyline points="305.7,406.4 309.81,406.71 315.97,407.33 320.08,410.74 324.19,411.98 330.36,412.6 334.47,412.6 338.58,412.6 344.75,412.6 361.19,412.6 375.57,412.6 389.95,412.6 404.34,412.6 416.67,412.6 445.44,412.6 511.2,412.6" fill="none" stroke="#000" stroke-width="1.4" stroke-dasharray="2.3,1.7"/>
<line x1="305.7" y1="405.78" x2="305.7" y2="407.02" class="eb"/>
<line x1="304.5" y1="405.78" x2="306.9" y2="405.78" class="eb"/>
<line x1="304.5" y1="407.02" x2="306.9" y2="407.02" class="eb"/>
<line x1="309.81" y1="406.09" x2="309.81" y2="407.33" class="eb"/>
<line x1="308.61" y1="406.09" x2="311.01" y2="406.09" class="eb"/>
<line x1="308.61" y1="407.33" x2="311.01" y2="407.33" class="eb"/>
<line x1="315.97" y1="405.78" x2="315.97" y2="408.88" class="eb"/>
<line x1="314.77" y1="405.78" x2="317.17" y2="405.78" class="eb"/>
<line x1="314.77" y1="408.88" x2="317.17" y2="408.88" class="eb"/>
<line x1="320.08" y1="410.12" x2="320.08" y2="411.36" class="eb"/>
<line x1="318.88" y1="410.12" x2="321.28" y2="410.12" class="eb"/>
<line x1="318.88" y1="411.36" x2="321.28" y2="411.36" class="eb"/>
<line x1="324.19" y1="411.67" x2="324.19" y2="412.29" class="eb"/>
<line x1="323" y1="411.67" x2="325.39" y2="411.67" class="eb"/>
<line x1="323" y1="412.29" x2="325.39" y2="412.29" class="eb"/>
<circle cx="305.7" cy="406.4" r="2.0" fill="#fff" stroke="#000" stroke-width="1.3"/>
<circle cx="309.81" cy="406.71" r="2.0" fill="#fff" stroke="#000" stroke-width="1.3"/>
<circle cx="315.97" cy="407.33" r="2.0" fill="#fff" stroke="#000" stroke-width="1.3"/>
<circle cx="320.08" cy="410.74" r="2.0" fill="#fff" stroke="#000" stroke-width="1.3"/>
<circle cx="324.19" cy="411.98" r="2.0" fill="#fff" stroke="#000" stroke-width="1.3"/>
<circle cx="330.36" cy="412.6" r="2.0" fill="#fff" stroke="#000" stroke-width="1.3"/>
<circle cx="334.47" cy="412.6" r="2.0" fill="#fff" stroke="#000" stroke-width="1.3"/>
<circle cx="338.58" cy="412.6" r="2.0" fill="#fff" stroke="#000" stroke-width="1.3"/>
<circle cx="344.75" cy="412.6" r="2.0" fill="#fff" stroke="#000" stroke-width="1.3"/>
<circle cx="361.19" cy="412.6" r="2.0" fill="#fff" stroke="#000" stroke-width="1.3"/>
<circle cx="375.57" cy="412.6" r="2.0" fill="#fff" stroke="#000" stroke-width="1.3"/>
<circle cx="389.95" cy="412.6" r="2.0" fill="#fff" stroke="#000" stroke-width="1.3"/>
<circle cx="404.34" cy="412.6" r="2.0" fill="#fff" stroke="#000" stroke-width="1.3"/>
<circle cx="416.67" cy="412.6" r="2.0" fill="#fff" stroke="#000" stroke-width="1.3"/>
<circle cx="445.44" cy="412.6" r="2.0" fill="#fff" stroke="#000" stroke-width="1.3"/>
<circle cx="511.2" cy="412.6" r="2.0" fill="#fff" stroke="#000" stroke-width="1.3"/>
<polyline points="305.7,405.78 309.81,407.64 315.97,409.19 320.08,410.12 324.19,411.36 330.36,412.29 334.47,412.29 338.58,412.29 344.75,412.29 359.13,412.29 373.51,412.29 387.9,411.98 396.12,411.05 416.67,409.19 445.44,409.19 511.2,409.19" fill="none" stroke="#000" stroke-width="1.5" stroke-dasharray="5,1.9"/>
<line x1="305.7" y1="405.16" x2="305.7" y2="406.4" class="eb"/>
<line x1="304.5" y1="405.16" x2="306.9" y2="405.16" class="eb"/>
<line x1="304.5" y1="406.4" x2="306.9" y2="406.4" class="eb"/>
<line x1="309.81" y1="407.02" x2="309.81" y2="408.26" class="eb"/>
<line x1="308.61" y1="407.02" x2="311.01" y2="407.02" class="eb"/>
<line x1="308.61" y1="408.26" x2="311.01" y2="408.26" class="eb"/>
<line x1="315.97" y1="408.26" x2="315.97" y2="410.12" class="eb"/>
<line x1="314.77" y1="408.26" x2="317.17" y2="408.26" class="eb"/>
<line x1="314.77" y1="410.12" x2="317.17" y2="410.12" class="eb"/>
<line x1="320.08" y1="409.5" x2="320.08" y2="410.74" class="eb"/>
<line x1="318.88" y1="409.5" x2="321.28" y2="409.5" class="eb"/>
<line x1="318.88" y1="410.74" x2="321.28" y2="410.74" class="eb"/>
<line x1="324.19" y1="411.05" x2="324.19" y2="411.67" class="eb"/>
<line x1="323" y1="411.05" x2="325.39" y2="411.05" class="eb"/>
<line x1="323" y1="411.67" x2="325.39" y2="411.67" class="eb"/>
<line x1="396.12" y1="410.43" x2="396.12" y2="411.67" class="eb"/>
<line x1="394.92" y1="410.43" x2="397.32" y2="410.43" class="eb"/>
<line x1="394.92" y1="411.67" x2="397.32" y2="411.67" class="eb"/>
<line x1="416.67" y1="406.71" x2="416.67" y2="411.67" class="eb"/>
<line x1="415.47" y1="406.71" x2="417.87" y2="406.71" class="eb"/>
<line x1="415.47" y1="411.67" x2="417.87" y2="411.67" class="eb"/>
<line x1="445.44" y1="407.33" x2="445.44" y2="411.05" class="eb"/>
<line x1="444.24" y1="407.33" x2="446.64" y2="407.33" class="eb"/>
<line x1="444.24" y1="411.05" x2="446.64" y2="411.05" class="eb"/>
<line x1="511.2" y1="406.71" x2="511.2" y2="411.67" class="eb"/>
<line x1="510" y1="406.71" x2="512.4" y2="406.71" class="eb"/>
<line x1="510" y1="411.67" x2="512.4" y2="411.67" class="eb"/>
<rect x="303.6" y="403.68" width="4.2" height="4.2" fill="#000"/>
<rect x="307.71" y="405.54" width="4.2" height="4.2" fill="#000"/>
<rect x="313.87" y="407.09" width="4.2" height="4.2" fill="#000"/>
<rect x="317.98" y="408.02" width="4.2" height="4.2" fill="#000"/>
<rect x="322.09" y="409.26" width="4.2" height="4.2" fill="#000"/>
<rect x="328.26" y="410.19" width="4.2" height="4.2" fill="#000"/>
<rect x="332.37" y="410.19" width="4.2" height="4.2" fill="#000"/>
<rect x="336.48" y="410.19" width="4.2" height="4.2" fill="#000"/>
<rect x="342.64" y="410.19" width="4.2" height="4.2" fill="#000"/>
<rect x="357.03" y="410.19" width="4.2" height="4.2" fill="#000"/>
<rect x="371.41" y="410.19" width="4.2" height="4.2" fill="#000"/>
<rect x="385.8" y="409.88" width="4.2" height="4.2" fill="#000"/>
<rect x="394.02" y="408.95" width="4.2" height="4.2" fill="#000"/>
<rect x="414.57" y="407.09" width="4.2" height="4.2" fill="#000"/>
<rect x="443.34" y="407.09" width="4.2" height="4.2" fill="#000"/>
<rect x="509.1" y="407.09" width="4.2" height="4.2" fill="#000"/>
<polyline points="305.7,406.09 309.81,399.08 315.97,387.61 320.08,381.29 324.19,381.29 330.36,377.57 338.58,371.8" fill="none" stroke="#000" stroke-width="1.0"/>
<line x1="305.7" y1="405.16" x2="305.7" y2="407.02" class="eb"/>
<line x1="304.5" y1="405.16" x2="306.9" y2="405.16" class="eb"/>
<line x1="304.5" y1="407.02" x2="306.9" y2="407.02" class="eb"/>
<line x1="309.81" y1="397.22" x2="309.81" y2="400.94" class="eb"/>
<line x1="308.61" y1="397.22" x2="311.01" y2="397.22" class="eb"/>
<line x1="308.61" y1="400.94" x2="311.01" y2="400.94" class="eb"/>
<line x1="315.97" y1="383.89" x2="315.97" y2="391.33" class="eb"/>
<line x1="314.77" y1="383.89" x2="317.17" y2="383.89" class="eb"/>
<line x1="314.77" y1="391.33" x2="317.17" y2="391.33" class="eb"/>
<line x1="320.08" y1="375.09" x2="320.08" y2="387.49" class="eb"/>
<line x1="318.88" y1="375.09" x2="321.28" y2="375.09" class="eb"/>
<line x1="318.88" y1="387.49" x2="321.28" y2="387.49" class="eb"/>
<line x1="324.19" y1="374.47" x2="324.19" y2="388.11" class="eb"/>
<line x1="323" y1="374.47" x2="325.39" y2="374.47" class="eb"/>
<line x1="323" y1="388.11" x2="325.39" y2="388.11" class="eb"/>
<line x1="330.36" y1="370.13" x2="330.36" y2="385.01" class="eb"/>
<line x1="329.16" y1="370.13" x2="331.56" y2="370.13" class="eb"/>
<line x1="329.16" y1="385.01" x2="331.56" y2="385.01" class="eb"/>
<line x1="338.58" y1="362.5" x2="338.58" y2="381.1" class="eb"/>
<line x1="337.38" y1="362.5" x2="339.78" y2="362.5" class="eb"/>
<line x1="337.38" y1="381.1" x2="339.78" y2="381.1" class="eb"/>
<circle cx="305.7" cy="406.09" r="2.3" fill="#000"/>
<circle cx="309.81" cy="399.08" r="2.3" fill="#000"/>
<circle cx="315.97" cy="387.61" r="2.3" fill="#000"/>
<circle cx="320.08" cy="381.29" r="2.3" fill="#000"/>
<circle cx="324.19" cy="381.29" r="2.3" fill="#000"/>
<circle cx="330.36" cy="377.57" r="2.3" fill="#000"/>
<circle cx="338.58" cy="371.8" r="2.3" fill="#000"/>
<text x="347.4" y="264.8" class="ti2" text-anchor="start" textLength="117" lengthAdjust="spacingAndGlyphs">FL-18 Combo PRIT</text>
<text x="263.1" y="257.4" class="pl" text-anchor="start">D</text>
<text x="344.3" y="374" class="an" text-anchor="start" textLength="36.4" lengthAdjust="spacingAndGlyphs">untreated</text>
<text x="433" y="344.4" class="an" text-anchor="start" textLength="30.6" lengthAdjust="spacingAndGlyphs">400 µCi</text>
<text x="417.5" y="354.8" class="an" text-anchor="start" textLength="62" lengthAdjust="spacingAndGlyphs">(closed square)</text>
<text x="412.5" y="382.6" class="an" text-anchor="start" textLength="30.6" lengthAdjust="spacingAndGlyphs">600 µCi</text>
<text x="403.6" y="393.3" class="an" text-anchor="start" textLength="48.6" lengthAdjust="spacingAndGlyphs">(open circle)</text>
<line x1="461" y1="357.9" x2="507.09" y2="401.95" stroke="#000" stroke-width="1.15"/>
<polygon points="510.7,405.4 505.43,403.68 508.74,400.21" fill="#000"/>
<line x1="432.6" y1="394.3" x2="440.52" y2="404.98" stroke="#000" stroke-width="1.15"/>
<polygon points="443.5,409 438.59,406.41 442.45,403.55" fill="#000"/>
<text x="353.6" y="448.7" class="xl" text-anchor="start" textLength="109.5" lengthAdjust="spacingAndGlyphs" style="font-size:11px">Days after treatment</text>
<text x="272" y="412.1" class="yl" text-anchor="start" textLength="122.7" lengthAdjust="spacingAndGlyphs" style="font-size:11.4px" transform="rotate(-90 272 412.1)">% Initial Tumor Volume</text>
<text x="242.7" y="17" class="mt" text-anchor="start" textLength="62.2" lengthAdjust="spacingAndGlyphs">FL-18</text>
</svg>
</body></html>
